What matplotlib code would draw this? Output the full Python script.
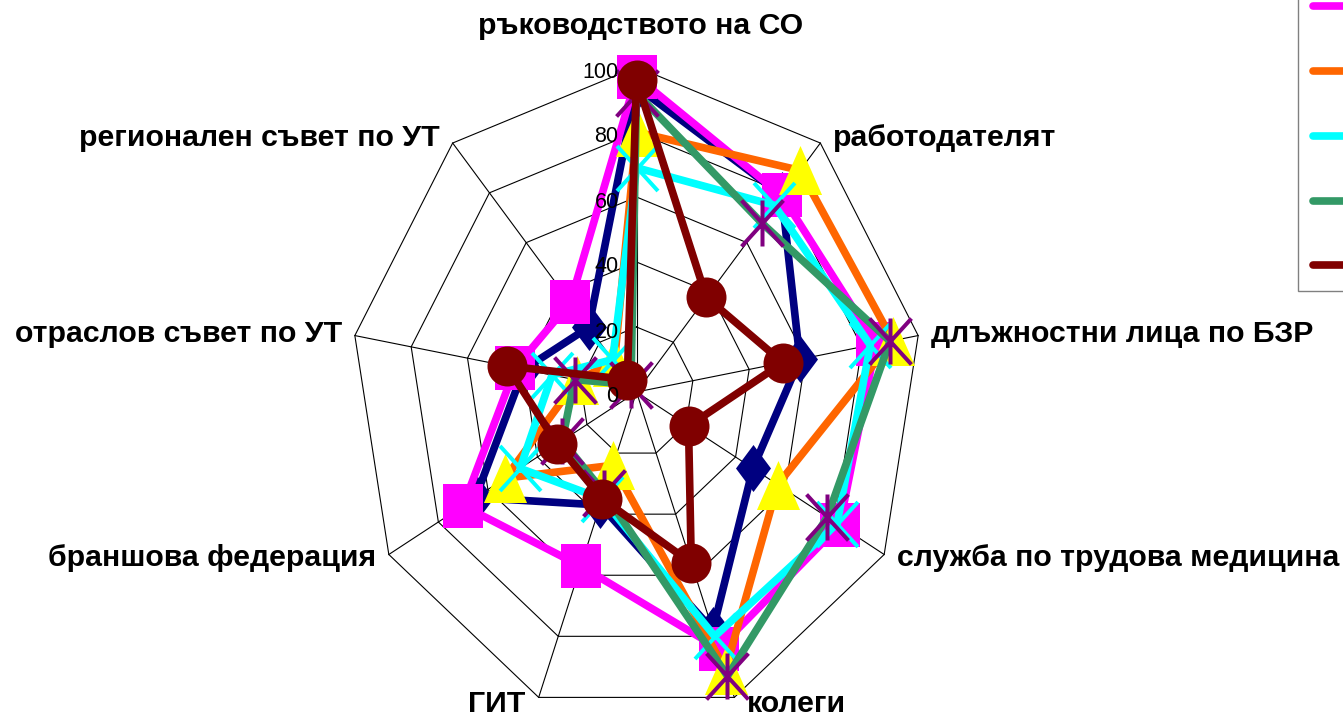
import numpy as np
import matplotlib
matplotlib.use("Agg")
import matplotlib.pyplot as plt
from matplotlib.path import Path
from matplotlib.lines import Line2D

# ---------------- data ----------------
categories = ["ръководството на СО", "работодателят", "длъжностни лица по БЗР",
              "служба по трудова медицина", "колеги", "ГИТ",
              "браншова федерация", "отраслов съвет по УТ", "регионален съвет по УТ"]
tick_values = [0, 20, 40, 60, 80, 100]

navy_vals    = [94, 79, 58, 47, 78, 37, 65, 40, 26]
magenta_vals = [97, 79, 85, 82, 84, 57, 70, 43, 36]
orange_vals  = [80, 89, 91, 57, 91, 24, 53, 21, 12]
cyan_vals    = [69, 75, 83, 81, 80, 35, 47, 30, 13]
green_vals   = [92, 68, 90, 77, 93, 33, 30, 22, 3]
darkred_vals = [96, 38, 52, 21, 56, 35, 32, 46, 5]

# ---------------- styles ----------------
W, H = 1343, 721
PX = 72 / 100.0  # points per pixel

def poly_marker(verts):
    v = list(verts) + [verts[0]]
    codes = [Path.MOVETO] + [Path.LINETO] * (len(verts) - 1) + [Path.CLOSEPOLY]
    return Path(v, codes)

diamond = poly_marker([(0, 1), (0.745, 0), (0, -1), (-0.745, 0)])
square = poly_marker([(-0.91, -1), (0.91, -1), (0.91, 1), (-0.91, 1)])
triangle = poly_marker([(0, 1), (-0.88, -1), (0.88, -1)])
xmark = Path([(-0.91, -1), (0.91, 1), (-0.91, 1), (0.91, -1)],
             [Path.MOVETO, Path.LINETO, Path.MOVETO, Path.LINETO])
star = Path([(-0.91, -1), (0.91, 1), (-0.91, 1), (0.91, -1), (0, -1), (0, 1)],
            [Path.MOVETO, Path.LINETO, Path.MOVETO, Path.LINETO, Path.MOVETO, Path.LINETO])

styles = [
    dict(vals=navy_vals, color="#000080", marker=diamond, mfc="#000080", mec="#000080", ms=47, mew=0),
    dict(vals=magenta_vals, color="#FF00FF", marker=square, mfc="#FF00FF", mec="#FF00FF", ms=44, mew=0),
    dict(vals=orange_vals, color="#FF6600", marker=triangle, mfc="#FFFF00", mec="#FFFF00", ms=49, mew=0),
    dict(vals=cyan_vals, color="#00FFFF", marker=xmark, mfc="none", mec="#00FFFF", ms=45, mew=4),
    dict(vals=green_vals, color="#339966", marker=star, mfc="none", mec="#800080", ms=46, mew=4),
    dict(vals=darkred_vals, color="#800000", marker="o", mfc="#800000", mec="#800000", ms=40, mew=0),
]

FONT = ["Liberation Sans", "DejaVu Sans"]

# ---------------- figure ----------------
fig = plt.figure(figsize=(W / 100, H / 100), dpi=100)
cx, cy = 636.5, 392.0
rx, ry = 286.0, 325.0
ax = fig.add_axes([(cx - rx) / W, (H - cy - ry) / H, 2 * rx / W, 2 * ry / H])
ax.set_xlim(-100, 100)
ax.set_ylim(-100, 100)
ax.axis("off")

n = len(categories)
phi = np.deg2rad(np.arange(n) * 360.0 / n)
sx, sy = np.sin(phi), np.cos(phi)

def closed(a):
    return np.append(a, a[0])

# grid rings & spokes
for t in tick_values[1:]:
    ax.plot(closed(t * sx), closed(t * sy), color="black", lw=0.8, zorder=1, clip_on=False)
vmax = tick_values[-1]
for i in range(n):
    ax.plot([0, vmax * sx[i]], [0, vmax * sy[i]], color="black", lw=0.8, zorder=1, clip_on=False)

# series
for z, st in enumerate(styles):
    v = np.array(st["vals"], dtype=float)
    ax.plot(closed(v * sx), closed(v * sy), color=st["color"], lw=5.5,
            solid_joinstyle="round", solid_capstyle="round", zorder=3 + 2 * z, clip_on=False)
    ax.plot(v * sx, v * sy, linestyle="none", marker=st["marker"], ms=st["ms"] * PX,
            mfc=st["mfc"], mec=st["mec"], mew=st["mew"] * PX, zorder=4 + 2 * z, clip_on=False)

# tick labels
for t in tick_values:
    ax.annotate(str(t), xy=(0, t), xytext=(-18 * PX, -5 * PX), textcoords="offset points",
                ha="right", va="center", fontsize=15.5, family=FONT, zorder=50)

# category labels
for i, name in enumerate(categories):
    s, c = sx[i], sy[i]
    if abs(s) < 0.1:
        ha, va = "center", "bottom"
        off = (4 * PX, 27 * PX)
    else:
        ha = "left" if s > 0 else "right"
        va = "center"
        off = (np.sign(s) * 13 * PX, 7 * c * PX)
    ax.annotate(name, xy=(vmax * s, vmax * c), xytext=off, textcoords="offset points",
                ha=ha, va=va, fontsize=21.8, fontweight="bold", family=FONT, zorder=50)

# legend (only the line samples are inside the picture, as in the original)
handles = [Line2D([], [], color=st["color"], lw=5.5, solid_capstyle="round") for st in styles]
leg = fig.legend(handles, [""] * len(handles), loc="lower left",
                 bbox_to_anchor=(1298 / W, (H - 291) / H), bbox_transform=fig.transFigure,
                 frameon=True, fancybox=False, edgecolor="#808080", framealpha=1,
                 labelspacing=2.43, borderpad=0.76, handlelength=5,
                 borderaxespad=0, prop={"family": FONT, "size": 14})
leg.get_frame().set_linewidth(1.0)

fig.savefig("out.png", dpi=100)
